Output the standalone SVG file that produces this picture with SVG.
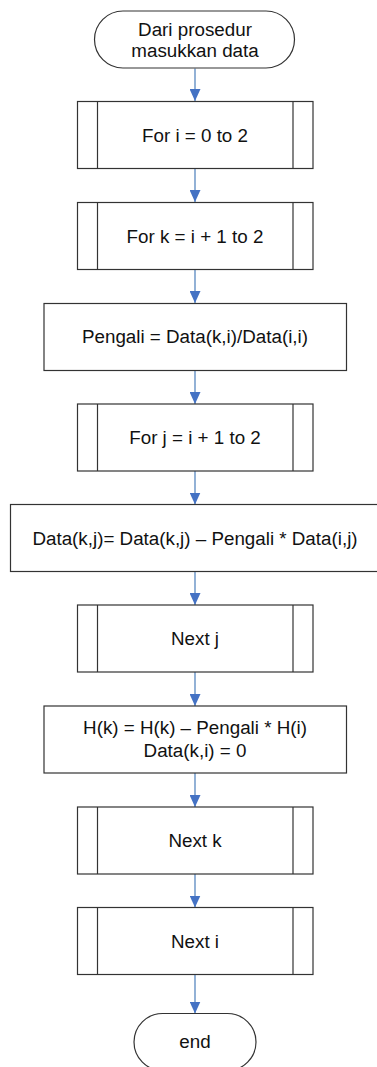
<svg xmlns="http://www.w3.org/2000/svg" width="377" height="1067" viewBox="0 0 377 1067">
<defs>
<style>
.b{fill:#fff;stroke:#333;stroke-width:1.2}
.t{font-family:"Liberation Sans",Arial,sans-serif;font-size:18.8px;fill:#111;text-anchor:middle}
.c{stroke:#4a7ebb;stroke-width:1.2;fill:none;marker-end:url(#ah)}
</style>
<marker id="ah" markerWidth="12" markerHeight="11" refX="12" refY="5.5" orient="auto" markerUnits="userSpaceOnUse" viewBox="0 0 12 11">
<path d="M0,0 L12,5.5 L0,11 Z" fill="#4472c4"/>
</marker>
</defs>
<rect width="377" height="1067" fill="#fff"/>
<g id="connectors">
<path class="c" d="M195,68.5 V101"/>
<path class="c" d="M195,168.5 V202"/>
<path class="c" d="M195,269.5 V303"/>
<path class="c" d="M195,370.5 V404"/>
<path class="c" d="M195,471 V504.5"/>
<path class="c" d="M195,571.5 V605"/>
<path class="c" d="M195,672 V706"/>
<path class="c" d="M195,773 V807"/>
<path class="c" d="M195,874 V907.5"/>
<path class="c" d="M195,974.5 V1013.5"/>
</g>
<g id="start">
<rect class="b" x="94.5" y="11" width="200" height="57" rx="28.5" ry="28.5"/>
<text class="t" x="195" y="35.5">Dari prosedur</text>
<text class="t" x="195" y="56.5">masukkan data</text>
</g>
<g id="for-i">
<rect class="b" x="77.5" y="101.5" width="235.5" height="67"/>
<line class="b" x1="97.5" y1="101.5" x2="97.5" y2="168.5"/>
<line class="b" x1="293" y1="101.5" x2="293" y2="168.5"/>
<text class="t" x="195" y="141.5">For i = 0 to 2</text>
</g>
<g id="for-k">
<rect class="b" x="77.5" y="202.5" width="235.5" height="67"/>
<line class="b" x1="97.5" y1="202.5" x2="97.5" y2="269.5"/>
<line class="b" x1="293" y1="202.5" x2="293" y2="269.5"/>
<text class="t" x="195" y="242.5">For k = i + 1 to 2</text>
</g>
<g id="pengali">
<rect class="b" x="44" y="303.5" width="302.5" height="67"/>
<text class="t" x="195" y="343">Pengali = Data(k,i)/Data(i,i)</text>
</g>
<g id="for-j">
<rect class="b" x="77.5" y="404" width="235.5" height="67"/>
<line class="b" x1="97.5" y1="404" x2="97.5" y2="471"/>
<line class="b" x1="293" y1="404" x2="293" y2="471"/>
<text class="t" x="195" y="444">For j = i + 1 to 2</text>
</g>
<g id="data-kj">
<rect class="b" x="10.5" y="504.5" width="369" height="67"/>
<text class="t" x="195" y="544.5">Data(k,j)= Data(k,j) – Pengali * Data(i,j)</text>
</g>
<g id="next-j">
<rect class="b" x="77.5" y="605" width="235.5" height="67"/>
<line class="b" x1="97.5" y1="605" x2="97.5" y2="672"/>
<line class="b" x1="293" y1="605" x2="293" y2="672"/>
<text class="t" x="195" y="645">Next j</text>
</g>
<g id="h-k">
<rect class="b" x="44" y="706" width="302.5" height="67"/>
<text class="t" x="195" y="734">H(k) = H(k) – Pengali * H(i)</text>
<text class="t" x="195" y="756.5">Data(k,i) = 0</text>
</g>
<g id="next-k">
<rect class="b" x="77.5" y="807" width="235.5" height="67"/>
<line class="b" x1="97.5" y1="807" x2="97.5" y2="874"/>
<line class="b" x1="293" y1="807" x2="293" y2="874"/>
<text class="t" x="195" y="847">Next k</text>
</g>
<g id="next-i">
<rect class="b" x="77.5" y="907.5" width="235.5" height="67"/>
<line class="b" x1="97.5" y1="907.5" x2="97.5" y2="974.5"/>
<line class="b" x1="293" y1="907.5" x2="293" y2="974.5"/>
<text class="t" x="195" y="947.5">Next i</text>
</g>
<g id="end">
<rect class="b" x="134" y="1013.5" width="122" height="57" rx="28.5" ry="28.5"/>
<text class="t" x="195" y="1048">end</text>
</g>
</svg>
